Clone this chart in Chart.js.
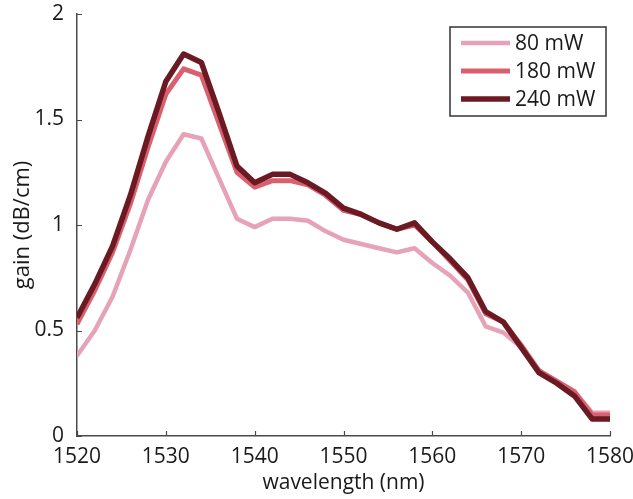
<!DOCTYPE html>
<html>
<head>
<meta charset="utf-8">
<script src="https://cdn.jsdelivr.net/npm/chart.js@4"></script>
<style>
  html, body { margin: 0; padding: 0; background: #fff; }
  #wrap { width: 633px; height: 499px; }
</style>
</head>
<body>
<div id="wrap"><canvas id="gainchart"></canvas></div>
<script>
// wavelength sweep, 2 nm steps
var wavelengths = [1520, 1522, 1524, 1526, 1528, 1530, 1532, 1534, 1536, 1538,
                   1540, 1542, 1544, 1546, 1548, 1550, 1552, 1554, 1556, 1558,
                   1560, 1562, 1564, 1566, 1568, 1570, 1572, 1574, 1576, 1578, 1580];

// gain in dB/cm for each pump power
var gain80  = [0.38, 0.50, 0.66, 0.88, 1.12, 1.30, 1.43, 1.41, 1.22, 1.03,
               0.99, 1.03, 1.03, 1.02, 0.97, 0.93, 0.91, 0.89, 0.87, 0.89,
               0.82, 0.76, 0.68, 0.52, 0.49, 0.42, 0.31, 0.26, 0.21, 0.11, 0.11];
var gain180 = [0.53, 0.69, 0.87, 1.10, 1.37, 1.62, 1.74, 1.71, 1.48, 1.25,
               1.18, 1.21, 1.21, 1.19, 1.14, 1.07, 1.05, 1.01, 0.98, 1.00,
               0.92, 0.83, 0.74, 0.58, 0.54, 0.43, 0.31, 0.26, 0.21, 0.10, 0.10];
var gain240 = [0.56, 0.72, 0.90, 1.14, 1.42, 1.68, 1.81, 1.77, 1.53, 1.28,
               1.20, 1.24, 1.24, 1.20, 1.15, 1.08, 1.05, 1.01, 0.98, 1.01,
               0.92, 0.84, 0.75, 0.59, 0.54, 0.42, 0.30, 0.25, 0.19, 0.08, 0.08];

var seriesNames = ["80 mW", "180 mW", "240 mW"];
var xTicks = [1520, 1530, 1540, 1550, 1560, 1570, 1580];
var yTicks = [0, 0.5, 1, 1.5, 2];

var FONT = "'Open Sans', 'DejaVu Sans', sans-serif";
var AXIS_COLOR = "#4a4a4a";

function toPoints(ys) {
    return wavelengths.map(function (x, i) { return { x: x, y: ys[i] }; });
}

// small tick marks pointing into the plot
var inwardTicks = {
    id: "inwardTicks",
    afterDraw: function (chart) {
        var ctx = chart.ctx, area = chart.chartArea;
        var xs = chart.scales.x, ys = chart.scales.y;
        ctx.save();
        ctx.strokeStyle = AXIS_COLOR;
        ctx.lineWidth = 1.2;
        ctx.beginPath();
        xTicks.forEach(function (v) {
            var px = Math.round(xs.getPixelForValue(v)) + 0.5;
            ctx.moveTo(px, area.bottom);
            ctx.lineTo(px, area.bottom - 5);
        });
        yTicks.forEach(function (v) {
            var py = Math.round(ys.getPixelForValue(v)) + 0.5;
            ctx.moveTo(area.left, py);
            ctx.lineTo(area.left + 5, py);
        });
        ctx.stroke();
        ctx.restore();
    }
};

// boxed legend inside the upper right of the plot
var boxLegend = {
    id: "boxLegend",
    afterDraw: function (chart) {
        var ctx = chart.ctx, area = chart.chartArea;
        var bx = area.right - 160, by = area.top + 13, bw = 156, bh = 89;
        ctx.save();
        ctx.fillStyle = "#fff";
        ctx.fillRect(bx, by, bw, bh);
        ctx.strokeStyle = "#333";
        ctx.lineWidth = 1.5;
        ctx.strokeRect(bx, by, bw, bh);
        ctx.font = "21px " + FONT;
        ctx.textBaseline = "middle";
        ctx.textAlign = "left";
        var sets = chart.data.datasets.slice().reverse();
        sets.forEach(function (ds, i) {
            var ry = by + 16 + i * 28;
            ctx.strokeStyle = ds.borderColor;
            ctx.lineWidth = ds.borderWidth;
            ctx.beginPath();
            ctx.moveTo(bx + 11, ry);
            ctx.lineTo(bx + 60, ry);
            ctx.stroke();
            ctx.fillStyle = "#1a1a1a";
            ctx.fillText(ds.label, bx + 65, ry + 1);
        });
        ctx.restore();
    }
};

new Chart("gainchart", {
    type: "line",
    data: {
        // last listed is drawn first, so the 240 mW curve sits on top
        datasets: [{
            label: seriesNames[2],
            data: toPoints(gain240),
            borderColor: "#6b1922",
            borderWidth: 5.5
        }, {
            label: seriesNames[1],
            data: toPoints(gain180),
            borderColor: "#d9606f",
            borderWidth: 5
        }, {
            label: seriesNames[0],
            data: toPoints(gain80),
            borderColor: "#e6a2b6",
            borderWidth: 4.5
        }]
    },
    options: {
        responsive: true,
        maintainAspectRatio: false,
        animation: false,
        layout: { padding: { top: 14, right: 23, left: 0, bottom: 0 } },
        elements: {
            point: { radius: 0 },
            line: { tension: 0, borderJoinStyle: "round", borderCapStyle: "butt" }
        },
        plugins: {
            legend: { display: false },
            tooltip: { enabled: false }
        },
        scales: {
            x: {
                type: "linear",
                min: 1520,
                max: 1580,
                afterBuildTicks: function (s) { s.ticks = xTicks.map(function (v) { return { value: v }; }); },
                afterFit: function (s) {
                    s.height = 63;
                    s.paddingLeft = 0;
                    s.paddingRight = 0;
                },
                grid: { display: false },
                border: { display: true, color: AXIS_COLOR, width: 1.5 },
                ticks: {
                    color: "#1a1a1a",
                    font: { family: FONT, size: 21 },
                    padding: 0,
                    maxRotation: 0,
                    autoSkip: false,
                    callback: function (v) { return String(v); }
                },
                title: {
                    display: true,
                    text: "wavelength (nm)",
                    color: "#1a1a1a",
                    font: { family: FONT, size: 21 },
                    padding: { top: 0, bottom: 3 }
                }
            },
            y: {
                min: 0,
                max: 2,
                afterBuildTicks: function (s) { s.ticks = yTicks.map(function (v) { return { value: v }; }); },
                afterFit: function (s) {
                    s.width = 77;
                    s.paddingTop = 0;
                    s.paddingBottom = 0;
                },
                grid: { display: false },
                border: { display: true, color: AXIS_COLOR, width: 1.5 },
                ticks: {
                    color: "#1a1a1a",
                    font: { family: FONT, size: 21 },
                    padding: 5,
                    callback: function (v) { return String(v); }
                },
                title: {
                    display: true,
                    text: "gain (dB/cm)",
                    color: "#1a1a1a",
                    font: { family: FONT, size: 22 },
                    padding: { top: 10, bottom: 0 }
                }
            }
        }
    },
    plugins: [inwardTicks, boxLegend]
});
</script>
</body>
</html>
